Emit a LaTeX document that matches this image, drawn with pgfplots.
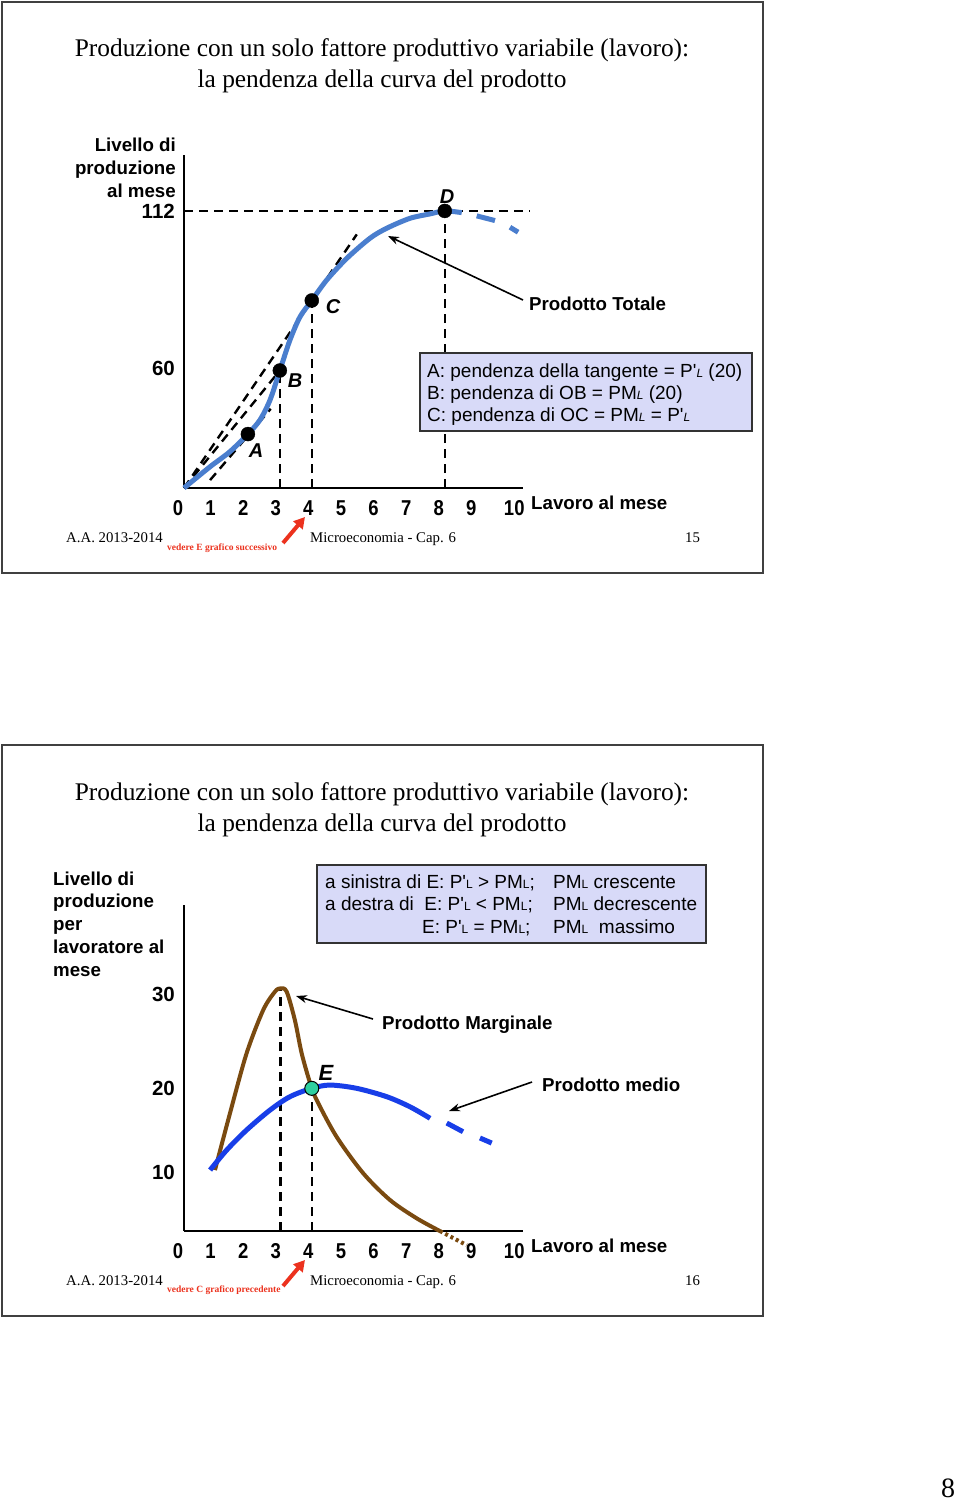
\documentclass[border=0pt]{standalone}
\usepackage{fontspec}
\setmainfont{Liberation Serif}
\setsansfont{Liberation Sans}
\usepackage{graphicx}
\usepackage{pgfplots}
\pgfplotsset{compat=1.18}
\usetikzlibrary{arrows.meta}
\definecolor{tpblue}{RGB}{74,126,206}
\definecolor{apblue}{RGB}{24,62,232}
\definecolor{mpbrown}{RGB}{122,74,16}
\definecolor{boxfill}{RGB}{216,218,248}
\definecolor{eteal}{RGB}{46,208,160}
\definecolor{redarrow}{RGB}{236,50,30}
\newcommand\fs[1]{\fontsize{#1bp}{#1bp}\selectfont}
\newcommand\Li{{\fs{12}\itshape L}}
\newcommand\Lu{{\fs{12}L}}
\newcommand\cx[1]{\scalebox{0.86}[1]{#1}}
\newcommand\q{\textquotesingle}
\pgfplotsset{
  slide/.style={
    scale only axis, width=339bp, xmin=0, xmax=10.4,
    axis lines*=left, axis line style={line width=2.8bp, black},
    major tick length=0pt, tick style={draw=none},
    xtick={0,1,2,3,4,5,6,7,8,9,10},
    xticklabels={\cx{0},\cx{1},\cx{2},\cx{3},\cx{4},\cx{5},\cx{6},\cx{7},\cx{8},\cx{9},\makebox[0pt][l]{\cx{10}}},
    tick label style={font=\sffamily\bfseries\fs{21.5}},
    xticklabel style={anchor=north, inner sep=0pt, yshift=-12bp, xshift=-6bp},
    yticklabel style={anchor=east, inner sep=0pt, xshift=-9bp, font=\sffamily\bfseries\fs{20.5}},
    clip=false,
  },
  guide/.style={black, line width=2.4bp, dash pattern=on 9bp off 6bp},
}
\begin{document}
\begin{tikzpicture}[x=1bp, y=1bp]
\fill[white] (0,0) rectangle (960,-1501);
\path[use as bounding box] (0,0) rectangle (960,-1501);

% ================= SLIDE 1 =================
\draw[line width=1.5bp, black!75] (2,-2) rectangle (763,-573);
\begin{scope}[every node/.style={inner sep=0pt}]
\node[anchor=base, font=\fs{25.4}] at (382,-57) {Produzione con un solo fattore produttivo variabile (lavoro):};
\node[anchor=base, font=\fs{25.4}] at (382,-88) {la pendenza della curva del prodotto};
\node[anchor=base east, font=\sffamily\bfseries\fs{18.7}] at (176,-151.5) {Livello di};
\node[anchor=base east, font=\sffamily\bfseries\fs{18.7}] at (176,-174.5) {produzione};
\node[anchor=base east, font=\sffamily\bfseries\fs{18.7}] at (176,-197.5) {al mese};
\end{scope}

\begin{axis}[slide, at={(184bp,-488bp)}, anchor=south west, height=333bp,
  ymin=0, ymax=134.6, ytick={48.5,112}, yticklabels={60,112}]
\addplot[guide] coordinates {(0,112) (10.6,112)};
\addplot[guide] coordinates {(8.0,0) (8.0,112)};
\addplot[guide] coordinates {(2.94,0) (2.94,47.5)};
\addplot[guide] coordinates {(3.92,0) (3.92,75.8)};
\addplot[guide] coordinates {(0,0) (5.3,102.5)};
\addplot[guide] coordinates {(0,0) (2.94,47.5)};
\addplot[guide] coordinates {(0.8,3.2) (2.66,32)};
\addplot[tpblue, line width=5bp, smooth] coordinates {
 (0,0) (0.80,8.6) (1.41,14.7) (1.96,21.8) (2.33,27.5) (2.64,35.6) (2.94,47.5)
 (3.25,59.8) (3.56,69.2) (3.92,75.8) (4.38,84.1) (5.0,92.9) (5.71,101.0)
 (6.22,105.0) (6.93,109.0) (7.55,110.8) (8.0,112) (8.52,111.3)};
\addplot[tpblue, line width=5bp] coordinates {(8.98,110.0) (9.54,108.1)};
\addplot[tpblue, line width=5bp] coordinates {(10.0,105.4) (10.25,103.4)};
\addplot[only marks, mark=*, mark size=7bp, black] coordinates {(1.96,21.8) (2.94,47.5) (3.92,75.8) (8.0,112)};
\end{axis}

\begin{scope}[every node/.style={inner sep=0pt}]
\node[font=\sffamily\bfseries\itshape\fs{20}] at (256,-451) {A};
\node[font=\sffamily\bfseries\itshape\fs{20}] at (295,-381) {B};
\node[font=\sffamily\bfseries\itshape\fs{20}] at (333,-307) {C};
\node[font=\sffamily\bfseries\itshape\fs{20}] at (447,-197) {D};
\node[anchor=base west, font=\sffamily\bfseries\fs{18.7}] at (529,-310) {Prodotto Totale};
\draw[line width=1.6bp, -{Stealth[length=11bp,width=8bp]}] (523,-300) -- (388,-236);
\node[anchor=base west, font=\sffamily\bfseries\fs{18.7}] at (531,-509) {Lavoro al mese};
\draw[line width=1.4bp, draw=black!80, fill=boxfill] (420,-353) rectangle (752,-431);
\node[anchor=base west, font=\sffamily\fs{19}] at (427,-377.5) {A: pendenza della tangente = P\q\Li{} (20)};
\node[anchor=base west, font=\sffamily\fs{19}] at (427,-399.5) {B: pendenza di OB = PM\Li{} (20)};
\node[anchor=base west, font=\sffamily\fs{19}] at (427,-421.5) {C: pendenza di OC = PM\Li{} = P\q\Li};
\node[anchor=base west, font=\fs{14.8}] at (66,-542) {A.A. 2013-2014};
\node[anchor=base west, font=\fs{14.8}] at (310,-542) {Microeconomia - Cap. 6};
\node[anchor=base west, font=\fs{14.8}] at (685,-542) {15};
\node[anchor=base west, font=\bfseries\fs{9.5}, text=redarrow] at (167,-550) {vedere E grafico successivo};
\draw[redarrow, line width=4bp, -{Triangle[length=11bp,width=12bp]}] (283,-543) -- (305,-517);
\end{scope}

% ================= SLIDE 2 =================
\draw[line width=1.5bp, black!75] (2,-745) rectangle (763,-1316);
\begin{scope}[every node/.style={inner sep=0pt}]
\node[anchor=base, font=\fs{25.4}] at (382,-800) {Produzione con un solo fattore produttivo variabile (lavoro):};
\node[anchor=base, font=\fs{25.4}] at (382,-831) {la pendenza della curva del prodotto};
\node[anchor=base west, font=\sffamily\bfseries\fs{18.7}] at (53,-885) {Livello di};
\node[anchor=base west, font=\sffamily\bfseries\fs{18.7}] at (53,-907) {produzione};
\node[anchor=base west, font=\sffamily\bfseries\fs{18.7}] at (53,-930) {per};
\node[anchor=base west, font=\sffamily\bfseries\fs{18.7}] at (53,-953) {lavoratore al};
\node[anchor=base west, font=\sffamily\bfseries\fs{18.7}] at (53,-976) {mese};
\end{scope}

\begin{axis}[slide, at={(184bp,-1231bp)}, anchor=south west, height=326bp,
  ymin=0, ymax=40.58, ytick={7.34,17.8,29.4}, yticklabels={10,20,30}]
\addplot[guide] coordinates {(2.96,0) (2.96,30.2)};
\addplot[guide] coordinates {(3.92,0) (3.92,17.76)};
\addplot[mpbrown, line width=4bp, smooth] coordinates {
 (0.95,7.59) (1.41,14.65) (1.92,22.12) (2.43,27.51) (2.79,29.79) (2.96,30.21)
 (3.15,29.79) (3.40,26.27) (3.61,22.12) (3.87,18.39) (4.07,16.31) (4.68,11.74)
 (5.50,7.18) (6.32,3.86) (7.14,1.58) (7.85,0)};
\addplot[mpbrown, line width=4bp, dash pattern=on 3bp off 3bp] coordinates {(7.85,0) (8.67,-1.75)};
\addplot[apblue, line width=5bp, smooth] coordinates {
 (0.80,7.59) (1.31,10.08) (1.92,12.57) (2.64,15.06) (3.25,16.72) (3.92,17.76)
 (4.48,18.17) (5.30,17.76) (6.22,16.72) (6.93,15.47) (7.55,14.03)};
\addplot[apblue, line width=5bp] coordinates {(8.06,13.44) (8.56,12.36)};
\addplot[apblue, line width=5bp] coordinates {(9.08,11.58) (9.44,10.95)};
\addplot[only marks, mark=*, mark size=7bp, draw=black, fill=eteal, line width=1bp] coordinates {(3.92,17.76)};
\end{axis}

\begin{scope}[every node/.style={inner sep=0pt}]
\draw[line width=1.4bp, draw=black!80, fill=boxfill] (317,-865) rectangle (706,-943);
\node[anchor=base west, font=\sffamily\fs{19}] at (325,-888) {a sinistra di E: P\q\Lu{} > PM\Lu;};
\node[anchor=base west, font=\sffamily\fs{19}] at (325,-910) {a destra di\ \ E: P\q\Lu{} < PM\Lu;};
\node[anchor=base west, font=\sffamily\fs{19}] at (422,-933) {E: P\q\Lu{} = PM\Lu;};
\node[anchor=base west, font=\sffamily\fs{19}] at (553,-888) {PM\Lu{} crescente};
\node[anchor=base west, font=\sffamily\fs{19}] at (553,-910) {PM\Lu{} decrescente};
\node[anchor=base west, font=\sffamily\fs{19}] at (553,-933) {PM\Lu\ \ massimo};
\node[font=\sffamily\bfseries\itshape\fs{22}] at (326,-1073) {E};
\node[anchor=base west, font=\sffamily\bfseries\fs{18.7}] at (382,-1029) {Prodotto Marginale};
\draw[line width=1.6bp, -{Stealth[length=11bp,width=8bp]}] (373,-1019) -- (296,-996);
\node[anchor=base west, font=\sffamily\bfseries\fs{18.7}] at (542,-1091) {Prodotto medio};
\draw[line width=1.6bp, -{Stealth[length=11bp,width=8bp]}] (532,-1082) -- (449,-1111);
\node[anchor=base west, font=\sffamily\bfseries\fs{18.7}] at (531,-1252) {Lavoro al mese};
\node[anchor=base west, font=\fs{14.8}] at (66,-1285) {A.A. 2013-2014};
\node[anchor=base west, font=\fs{14.8}] at (310,-1285) {Microeconomia - Cap. 6};
\node[anchor=base west, font=\fs{14.8}] at (685,-1285) {16};
\node[anchor=base west, font=\bfseries\fs{9.5}, text=redarrow] at (167,-1292) {vedere C grafico precedente};
\draw[redarrow, line width=4bp, -{Triangle[length=11bp,width=12bp]}] (283,-1286) -- (305,-1260);
\node[font=\fs{28}] at (948,-1488) {8};
\end{scope}
\end{tikzpicture}
\end{document}
